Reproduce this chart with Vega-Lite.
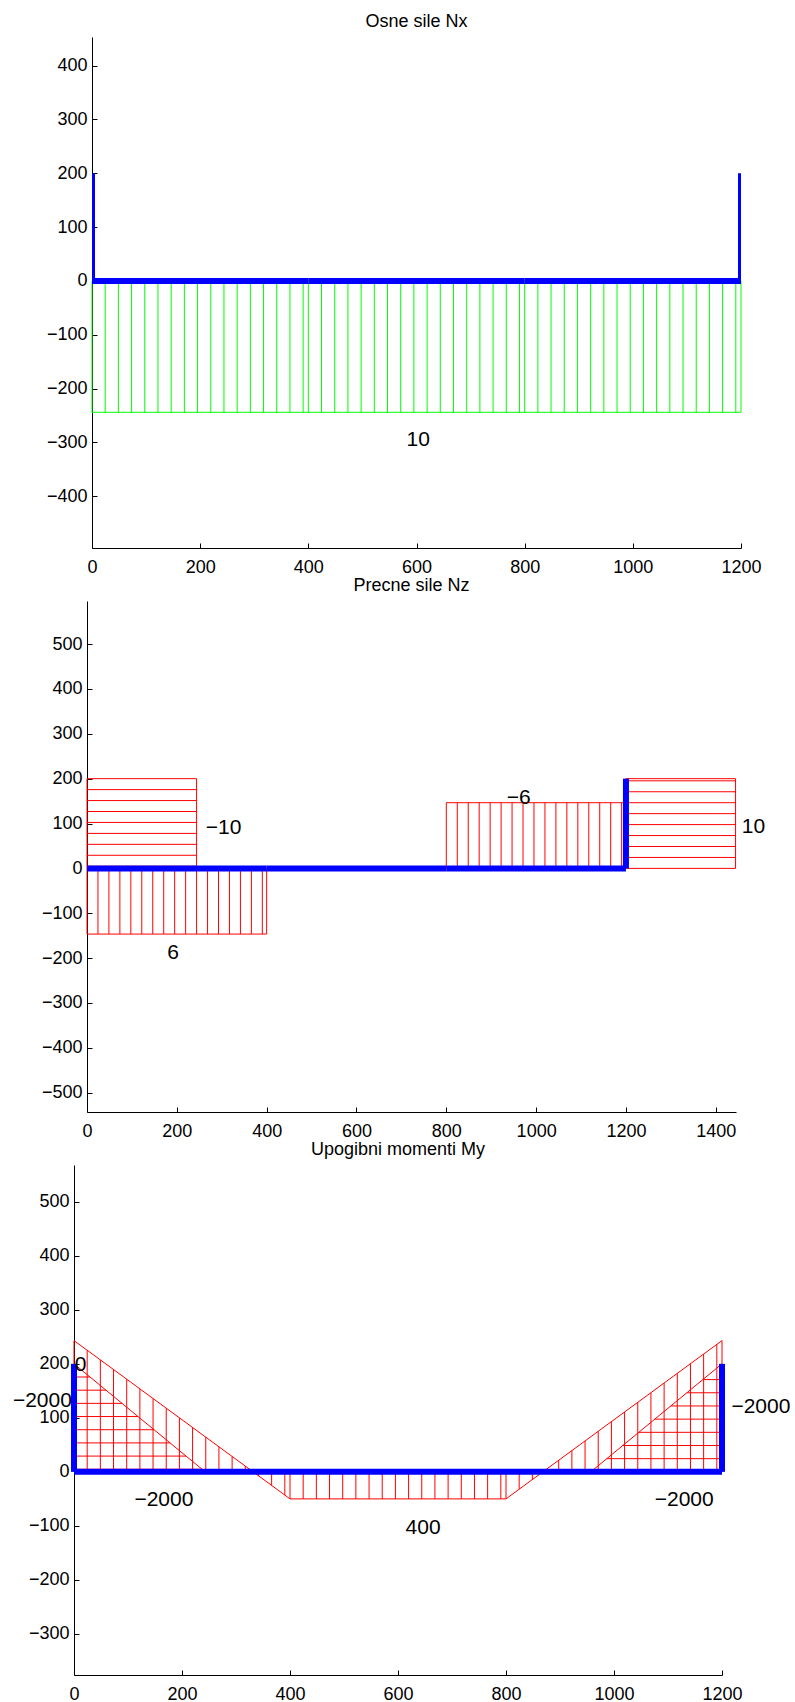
{
  "$schema": "https://vega.github.io/schema/vega-lite/v6.json",
  "padding": {"left": 0, "top": 13, "right": 0, "bottom": 0},
  "background": "white",
  "align": "none",
  "bounds": "full",
  "spacing": 1,
  "config": {
    "view": {"stroke": null},
    "axis": {"domainColor": "#000", "domainWidth": 1, "tickColor": "#000", "tickWidth": 1, "tickSize": -5, "labelColor": "#000", "labelFont": "Liberation Sans", "labelFontSize": 18, "grid": false, "labelFlush": false, "labelOverlap": false, "format": "d"},
    "axisX": {"labelPadding": 15},
    "axisY": {"labelPadding": 10, "minExtent": 65, "maxExtent": 65},
    "title": {"font": "Liberation Sans", "fontSize": 18, "fontWeight": "normal", "color": "#000", "anchor": "middle", "frame": "group", "offset": 6, "baseline": "alphabetic"},
    "text": {"font": "Liberation Sans", "fontSize": 21, "color": "#000", "align": "center", "baseline": "middle"}
  },
  "datasets": {
    "none": [],
    "p1": [
      {"part": "frame", "x": 0, "y": 0, "x2": 0, "y2": 200},
      {"part": "frame", "x": 0, "y": 0, "x2": 400, "y2": 0},
      {"part": "frame", "x": 400, "y": 0, "x2": 800, "y2": 0},
      {"part": "frame", "x": 800, "y": 0, "x2": 1200, "y2": 0},
      {"part": "frame", "x": 1200, "y": 0, "x2": 1200, "y2": 200},
      {"part": "diagram", "x": 0, "y": 0, "x2": 0, "y2": -244},
      {"part": "diagram", "x": 0, "y": -244, "x2": 1200, "y2": -244},
      {"part": "diagram", "x": 1200, "y": -244, "x2": 1200, "y2": 0},
      {"part": "diagram", "x": 400, "y": 0, "x2": 400, "y2": -244},
      {"part": "diagram", "x": 800, "y": 0, "x2": 800, "y2": -244},
      {"part": "diagram", "x": 0, "y": 0, "x2": 1200, "y2": 0},
      {"part": "diagram", "x": 24.4, "y": 0, "x2": 24.4, "y2": -244},
      {"part": "diagram", "x": 48.8, "y": 0, "x2": 48.8, "y2": -244},
      {"part": "diagram", "x": 73.2, "y": 0, "x2": 73.2, "y2": -244},
      {"part": "diagram", "x": 97.6, "y": 0, "x2": 97.6, "y2": -244},
      {"part": "diagram", "x": 122, "y": 0, "x2": 122, "y2": -244},
      {"part": "diagram", "x": 146.4, "y": 0, "x2": 146.4, "y2": -244},
      {"part": "diagram", "x": 170.8, "y": 0, "x2": 170.8, "y2": -244},
      {"part": "diagram", "x": 195.2, "y": 0, "x2": 195.2, "y2": -244},
      {"part": "diagram", "x": 219.6, "y": 0, "x2": 219.6, "y2": -244},
      {"part": "diagram", "x": 244, "y": 0, "x2": 244, "y2": -244},
      {"part": "diagram", "x": 268.4, "y": 0, "x2": 268.4, "y2": -244},
      {"part": "diagram", "x": 292.8, "y": 0, "x2": 292.8, "y2": -244},
      {"part": "diagram", "x": 317.2, "y": 0, "x2": 317.2, "y2": -244},
      {"part": "diagram", "x": 341.6, "y": 0, "x2": 341.6, "y2": -244},
      {"part": "diagram", "x": 366, "y": 0, "x2": 366, "y2": -244},
      {"part": "diagram", "x": 390.4, "y": 0, "x2": 390.4, "y2": -244},
      {"part": "diagram", "x": 424.4, "y": 0, "x2": 424.4, "y2": -244},
      {"part": "diagram", "x": 448.8, "y": 0, "x2": 448.8, "y2": -244},
      {"part": "diagram", "x": 473.2, "y": 0, "x2": 473.2, "y2": -244},
      {"part": "diagram", "x": 497.6, "y": 0, "x2": 497.6, "y2": -244},
      {"part": "diagram", "x": 522, "y": 0, "x2": 522, "y2": -244},
      {"part": "diagram", "x": 546.4, "y": 0, "x2": 546.4, "y2": -244},
      {"part": "diagram", "x": 570.8, "y": 0, "x2": 570.8, "y2": -244},
      {"part": "diagram", "x": 595.2, "y": 0, "x2": 595.2, "y2": -244},
      {"part": "diagram", "x": 619.6, "y": 0, "x2": 619.6, "y2": -244},
      {"part": "diagram", "x": 644, "y": 0, "x2": 644, "y2": -244},
      {"part": "diagram", "x": 668.4, "y": 0, "x2": 668.4, "y2": -244},
      {"part": "diagram", "x": 692.8, "y": 0, "x2": 692.8, "y2": -244},
      {"part": "diagram", "x": 717.2, "y": 0, "x2": 717.2, "y2": -244},
      {"part": "diagram", "x": 741.6, "y": 0, "x2": 741.6, "y2": -244},
      {"part": "diagram", "x": 766, "y": 0, "x2": 766, "y2": -244},
      {"part": "diagram", "x": 790.4, "y": 0, "x2": 790.4, "y2": -244},
      {"part": "diagram", "x": 824.4, "y": 0, "x2": 824.4, "y2": -244},
      {"part": "diagram", "x": 848.8, "y": 0, "x2": 848.8, "y2": -244},
      {"part": "diagram", "x": 873.2, "y": 0, "x2": 873.2, "y2": -244},
      {"part": "diagram", "x": 897.6, "y": 0, "x2": 897.6, "y2": -244},
      {"part": "diagram", "x": 922, "y": 0, "x2": 922, "y2": -244},
      {"part": "diagram", "x": 946.4, "y": 0, "x2": 946.4, "y2": -244},
      {"part": "diagram", "x": 970.8, "y": 0, "x2": 970.8, "y2": -244},
      {"part": "diagram", "x": 995.2, "y": 0, "x2": 995.2, "y2": -244},
      {"part": "diagram", "x": 1019.6, "y": 0, "x2": 1019.6, "y2": -244},
      {"part": "diagram", "x": 1044, "y": 0, "x2": 1044, "y2": -244},
      {"part": "diagram", "x": 1068.4, "y": 0, "x2": 1068.4, "y2": -244},
      {"part": "diagram", "x": 1092.8, "y": 0, "x2": 1092.8, "y2": -244},
      {"part": "diagram", "x": 1117.2, "y": 0, "x2": 1117.2, "y2": -244},
      {"part": "diagram", "x": 1141.6, "y": 0, "x2": 1141.6, "y2": -244},
      {"part": "diagram", "x": 1166, "y": 0, "x2": 1166, "y2": -244},
      {"part": "diagram", "x": 1190.4, "y": 0, "x2": 1190.4, "y2": -244}
    ],
    "t1": [
      {"x": 603, "y": -295, "label": "10"}
    ],
    "p2": [
      {"part": "frame", "x": 0, "y": 0, "x2": 400, "y2": 0},
      {"part": "frame", "x": 400, "y": 0, "x2": 800, "y2": 0},
      {"part": "frame", "x": 800, "y": 0, "x2": 1200, "y2": 0},
      {"part": "frame", "x": 1200, "y": 0, "x2": 1200, "y2": 200},
      {"part": "diagram", "x": 0, "y": 0, "x2": 0, "y2": 200},
      {"part": "diagram", "x": 0, "y": 200, "x2": 244, "y2": 200},
      {"part": "diagram", "x": 244, "y": 200, "x2": 244, "y2": 0},
      {"part": "diagram", "x": 0, "y": 0, "x2": 244, "y2": 0},
      {"part": "diagram", "x": 0, "y": 175.6, "x2": 244, "y2": 175.6},
      {"part": "diagram", "x": 0, "y": 151.2, "x2": 244, "y2": 151.2},
      {"part": "diagram", "x": 0, "y": 126.8, "x2": 244, "y2": 126.8},
      {"part": "diagram", "x": 0, "y": 102.4, "x2": 244, "y2": 102.4},
      {"part": "diagram", "x": 0, "y": 78, "x2": 244, "y2": 78},
      {"part": "diagram", "x": 0, "y": 53.6, "x2": 244, "y2": 53.6},
      {"part": "diagram", "x": 0, "y": 29.2, "x2": 244, "y2": 29.2},
      {"part": "diagram", "x": 0, "y": 4.8, "x2": 244, "y2": 4.8},
      {"part": "diagram", "x": 0, "y": 0, "x2": 0, "y2": -146.4},
      {"part": "diagram", "x": 0, "y": -146.4, "x2": 400, "y2": -146.4},
      {"part": "diagram", "x": 400, "y": -146.4, "x2": 400, "y2": 0},
      {"part": "diagram", "x": 0, "y": 0, "x2": 400, "y2": 0},
      {"part": "diagram", "x": 24.4, "y": 0, "x2": 24.4, "y2": -146.4},
      {"part": "diagram", "x": 48.8, "y": 0, "x2": 48.8, "y2": -146.4},
      {"part": "diagram", "x": 73.2, "y": 0, "x2": 73.2, "y2": -146.4},
      {"part": "diagram", "x": 97.6, "y": 0, "x2": 97.6, "y2": -146.4},
      {"part": "diagram", "x": 122, "y": 0, "x2": 122, "y2": -146.4},
      {"part": "diagram", "x": 146.4, "y": 0, "x2": 146.4, "y2": -146.4},
      {"part": "diagram", "x": 170.8, "y": 0, "x2": 170.8, "y2": -146.4},
      {"part": "diagram", "x": 195.2, "y": 0, "x2": 195.2, "y2": -146.4},
      {"part": "diagram", "x": 219.6, "y": 0, "x2": 219.6, "y2": -146.4},
      {"part": "diagram", "x": 244, "y": 0, "x2": 244, "y2": -146.4},
      {"part": "diagram", "x": 268.4, "y": 0, "x2": 268.4, "y2": -146.4},
      {"part": "diagram", "x": 292.8, "y": 0, "x2": 292.8, "y2": -146.4},
      {"part": "diagram", "x": 317.2, "y": 0, "x2": 317.2, "y2": -146.4},
      {"part": "diagram", "x": 341.6, "y": 0, "x2": 341.6, "y2": -146.4},
      {"part": "diagram", "x": 366, "y": 0, "x2": 366, "y2": -146.4},
      {"part": "diagram", "x": 390.4, "y": 0, "x2": 390.4, "y2": -146.4},
      {"part": "diagram", "x": 800, "y": 0, "x2": 800, "y2": 146.4},
      {"part": "diagram", "x": 800, "y": 146.4, "x2": 1200, "y2": 146.4},
      {"part": "diagram", "x": 1200, "y": 146.4, "x2": 1200, "y2": 0},
      {"part": "diagram", "x": 800, "y": 0, "x2": 1200, "y2": 0},
      {"part": "diagram", "x": 824.4, "y": 0, "x2": 824.4, "y2": 146.4},
      {"part": "diagram", "x": 848.8, "y": 0, "x2": 848.8, "y2": 146.4},
      {"part": "diagram", "x": 873.2, "y": 0, "x2": 873.2, "y2": 146.4},
      {"part": "diagram", "x": 897.6, "y": 0, "x2": 897.6, "y2": 146.4},
      {"part": "diagram", "x": 922, "y": 0, "x2": 922, "y2": 146.4},
      {"part": "diagram", "x": 946.4, "y": 0, "x2": 946.4, "y2": 146.4},
      {"part": "diagram", "x": 970.8, "y": 0, "x2": 970.8, "y2": 146.4},
      {"part": "diagram", "x": 995.2, "y": 0, "x2": 995.2, "y2": 146.4},
      {"part": "diagram", "x": 1019.6, "y": 0, "x2": 1019.6, "y2": 146.4},
      {"part": "diagram", "x": 1044, "y": 0, "x2": 1044, "y2": 146.4},
      {"part": "diagram", "x": 1068.4, "y": 0, "x2": 1068.4, "y2": 146.4},
      {"part": "diagram", "x": 1092.8, "y": 0, "x2": 1092.8, "y2": 146.4},
      {"part": "diagram", "x": 1117.2, "y": 0, "x2": 1117.2, "y2": 146.4},
      {"part": "diagram", "x": 1141.6, "y": 0, "x2": 1141.6, "y2": 146.4},
      {"part": "diagram", "x": 1166, "y": 0, "x2": 1166, "y2": 146.4},
      {"part": "diagram", "x": 1190.4, "y": 0, "x2": 1190.4, "y2": 146.4},
      {"part": "diagram", "x": 1200, "y": 0, "x2": 1200, "y2": 200},
      {"part": "diagram", "x": 1200, "y": 200, "x2": 1444, "y2": 200},
      {"part": "diagram", "x": 1444, "y": 200, "x2": 1444, "y2": 0},
      {"part": "diagram", "x": 1200, "y": 0, "x2": 1444, "y2": 0},
      {"part": "diagram", "x": 1200, "y": 24.4, "x2": 1444, "y2": 24.4},
      {"part": "diagram", "x": 1200, "y": 48.8, "x2": 1444, "y2": 48.8},
      {"part": "diagram", "x": 1200, "y": 73.2, "x2": 1444, "y2": 73.2},
      {"part": "diagram", "x": 1200, "y": 97.6, "x2": 1444, "y2": 97.6},
      {"part": "diagram", "x": 1200, "y": 122, "x2": 1444, "y2": 122},
      {"part": "diagram", "x": 1200, "y": 146.4, "x2": 1444, "y2": 146.4},
      {"part": "diagram", "x": 1200, "y": 170.8, "x2": 1444, "y2": 170.8},
      {"part": "diagram", "x": 1200, "y": 195.2, "x2": 1444, "y2": 195.2}
    ],
    "t2": [
      {"x": 304, "y": 90, "label": "−10"},
      {"x": 191.6, "y": -187.5, "label": "6"},
      {"x": 961, "y": 157, "label": "−6"},
      {"x": 1484, "y": 92, "label": "10"}
    ],
    "p3": [
      {"part": "frame", "x": 0, "y": 0, "x2": 0, "y2": 200},
      {"part": "frame", "x": 0, "y": 0, "x2": 400, "y2": 0},
      {"part": "frame", "x": 400, "y": 0, "x2": 800, "y2": 0},
      {"part": "frame", "x": 800, "y": 0, "x2": 1200, "y2": 0},
      {"part": "frame", "x": 1200, "y": 0, "x2": 1200, "y2": 200},
      {"part": "diagram", "x": 0, "y": 200, "x2": 243, "y2": 0},
      {"part": "diagram", "x": 0, "y": 0, "x2": 0, "y2": 243},
      {"part": "diagram", "x": 0, "y": 175.6, "x2": 29.6, "y2": 175.6},
      {"part": "diagram", "x": 0, "y": 151.2, "x2": 59.3, "y2": 151.2},
      {"part": "diagram", "x": 0, "y": 126.8, "x2": 88.9, "y2": 126.8},
      {"part": "diagram", "x": 0, "y": 102.4, "x2": 118.6, "y2": 102.4},
      {"part": "diagram", "x": 0, "y": 78, "x2": 148.2, "y2": 78},
      {"part": "diagram", "x": 0, "y": 53.6, "x2": 177.9, "y2": 53.6},
      {"part": "diagram", "x": 0, "y": 29.2, "x2": 207.5, "y2": 29.2},
      {"part": "diagram", "x": 0, "y": 4.8, "x2": 237.2, "y2": 4.8},
      {"part": "diagram", "x": 0, "y": 243, "x2": 400, "y2": -50},
      {"part": "diagram", "x": 400, "y": -50, "x2": 400, "y2": 0},
      {"part": "diagram", "x": 0, "y": 0, "x2": 1200, "y2": 0},
      {"part": "diagram", "x": 24.4, "y": 0, "x2": 24.4, "y2": 225.1},
      {"part": "diagram", "x": 48.8, "y": 0, "x2": 48.8, "y2": 207.3},
      {"part": "diagram", "x": 73.2, "y": 0, "x2": 73.2, "y2": 189.4},
      {"part": "diagram", "x": 97.6, "y": 0, "x2": 97.6, "y2": 171.5},
      {"part": "diagram", "x": 122, "y": 0, "x2": 122, "y2": 153.6},
      {"part": "diagram", "x": 146.4, "y": 0, "x2": 146.4, "y2": 135.8},
      {"part": "diagram", "x": 170.8, "y": 0, "x2": 170.8, "y2": 117.9},
      {"part": "diagram", "x": 195.2, "y": 0, "x2": 195.2, "y2": 100},
      {"part": "diagram", "x": 219.6, "y": 0, "x2": 219.6, "y2": 82.1},
      {"part": "diagram", "x": 244, "y": 0, "x2": 244, "y2": 64.3},
      {"part": "diagram", "x": 268.4, "y": 0, "x2": 268.4, "y2": 46.4},
      {"part": "diagram", "x": 292.8, "y": 0, "x2": 292.8, "y2": 28.5},
      {"part": "diagram", "x": 317.2, "y": 0, "x2": 317.2, "y2": 10.6},
      {"part": "diagram", "x": 341.6, "y": 0, "x2": 341.6, "y2": -7.2},
      {"part": "diagram", "x": 366, "y": 0, "x2": 366, "y2": -25.1},
      {"part": "diagram", "x": 390.4, "y": 0, "x2": 390.4, "y2": -43},
      {"part": "diagram", "x": 400, "y": -50, "x2": 800, "y2": -50},
      {"part": "diagram", "x": 800, "y": -50, "x2": 800, "y2": 0},
      {"part": "diagram", "x": 424.4, "y": 0, "x2": 424.4, "y2": -50},
      {"part": "diagram", "x": 448.8, "y": 0, "x2": 448.8, "y2": -50},
      {"part": "diagram", "x": 473.2, "y": 0, "x2": 473.2, "y2": -50},
      {"part": "diagram", "x": 497.6, "y": 0, "x2": 497.6, "y2": -50},
      {"part": "diagram", "x": 522, "y": 0, "x2": 522, "y2": -50},
      {"part": "diagram", "x": 546.4, "y": 0, "x2": 546.4, "y2": -50},
      {"part": "diagram", "x": 570.8, "y": 0, "x2": 570.8, "y2": -50},
      {"part": "diagram", "x": 595.2, "y": 0, "x2": 595.2, "y2": -50},
      {"part": "diagram", "x": 619.6, "y": 0, "x2": 619.6, "y2": -50},
      {"part": "diagram", "x": 644, "y": 0, "x2": 644, "y2": -50},
      {"part": "diagram", "x": 668.4, "y": 0, "x2": 668.4, "y2": -50},
      {"part": "diagram", "x": 692.8, "y": 0, "x2": 692.8, "y2": -50},
      {"part": "diagram", "x": 717.2, "y": 0, "x2": 717.2, "y2": -50},
      {"part": "diagram", "x": 741.6, "y": 0, "x2": 741.6, "y2": -50},
      {"part": "diagram", "x": 766, "y": 0, "x2": 766, "y2": -50},
      {"part": "diagram", "x": 790.4, "y": 0, "x2": 790.4, "y2": -50},
      {"part": "diagram", "x": 800, "y": -50, "x2": 1200, "y2": 243},
      {"part": "diagram", "x": 1200, "y": 243, "x2": 1200, "y2": 0},
      {"part": "diagram", "x": 824.4, "y": 0, "x2": 824.4, "y2": -32.1},
      {"part": "diagram", "x": 848.8, "y": 0, "x2": 848.8, "y2": -14.3},
      {"part": "diagram", "x": 873.2, "y": 0, "x2": 873.2, "y2": 3.6},
      {"part": "diagram", "x": 897.6, "y": 0, "x2": 897.6, "y2": 21.5},
      {"part": "diagram", "x": 922, "y": 0, "x2": 922, "y2": 39.4},
      {"part": "diagram", "x": 946.4, "y": 0, "x2": 946.4, "y2": 57.2},
      {"part": "diagram", "x": 970.8, "y": 0, "x2": 970.8, "y2": 75.1},
      {"part": "diagram", "x": 995.2, "y": 0, "x2": 995.2, "y2": 93},
      {"part": "diagram", "x": 1019.6, "y": 0, "x2": 1019.6, "y2": 110.9},
      {"part": "diagram", "x": 1044, "y": 0, "x2": 1044, "y2": 128.7},
      {"part": "diagram", "x": 1068.4, "y": 0, "x2": 1068.4, "y2": 146.6},
      {"part": "diagram", "x": 1092.8, "y": 0, "x2": 1092.8, "y2": 164.5},
      {"part": "diagram", "x": 1117.2, "y": 0, "x2": 1117.2, "y2": 182.4},
      {"part": "diagram", "x": 1141.6, "y": 0, "x2": 1141.6, "y2": 200.2},
      {"part": "diagram", "x": 1166, "y": 0, "x2": 1166, "y2": 218.1},
      {"part": "diagram", "x": 1190.4, "y": 0, "x2": 1190.4, "y2": 236},
      {"part": "diagram", "x": 957, "y": 0, "x2": 1200, "y2": 200},
      {"part": "diagram", "x": 986.6, "y": 24.4, "x2": 1200, "y2": 24.4},
      {"part": "diagram", "x": 1016.3, "y": 48.8, "x2": 1200, "y2": 48.8},
      {"part": "diagram", "x": 1045.9, "y": 73.2, "x2": 1200, "y2": 73.2},
      {"part": "diagram", "x": 1075.6, "y": 97.6, "x2": 1200, "y2": 97.6},
      {"part": "diagram", "x": 1105.2, "y": 122, "x2": 1200, "y2": 122},
      {"part": "diagram", "x": 1134.9, "y": 146.4, "x2": 1200, "y2": 146.4},
      {"part": "diagram", "x": 1164.5, "y": 170.8, "x2": 1200, "y2": 170.8},
      {"part": "diagram", "x": 1194.2, "y": 195.2, "x2": 1200, "y2": 195.2}
    ],
    "t3": [
      {"x": 12, "y": 197, "label": "0"},
      {"x": -58.5, "y": 132, "label": "−2000"},
      {"x": 166.5, "y": -52.5, "label": "−2000"},
      {"x": 646.5, "y": -104, "label": "400"},
      {"x": 1130, "y": -52.5, "label": "−2000"},
      {"x": 1272, "y": 120, "label": "−2000"}
    ]
  },
  "vconcat": [
    {
      "hconcat": [
        {"width": 27, "height": 1, "data": {"name": "none"}, "mark": {"type": "rule"}, "encoding": {}},
        {
          "title": {"text": "Osne sile Nx"},
          "width": 649,
          "height": 511,
          "layer": [
            {
              "data": {"name": "p1"},
              "transform": [{"filter": "datum.part === 'diagram'"}],
              "mark": {"type": "rule", "color": "#00ff00", "strokeWidth": 1},
              "encoding": {
                "x": {"field": "x", "type": "quantitative", "scale": {"domain": [0, 1200], "nice": false}, "axis": {"title": null, "values": [0, 200, 400, 600, 800, 1000, 1200]}},
                "x2": {"field": "x2"},
                "y": {"field": "y", "type": "quantitative", "scale": {"domain": [-496, 453], "nice": false}, "axis": {"title": null, "values": [-400, -300, -200, -100, 0, 100, 200, 300, 400]}},
                "y2": {"field": "y2"}
              }
            },
            {
              "data": {"name": "p1"},
              "transform": [{"filter": "datum.part === 'frame'"}],
              "mark": {"type": "rule", "color": "#0000ff", "strokeWidth": 6, "clip": true},
              "encoding": {
                "x": {"field": "x", "type": "quantitative"},
                "x2": {"field": "x2"},
                "y": {"field": "y", "type": "quantitative"},
                "y2": {"field": "y2"}
              }
            },
            {
              "data": {"name": "t1"},
              "mark": {"type": "text"},
              "encoding": {
                "x": {"field": "x", "type": "quantitative"},
                "y": {"field": "y", "type": "quantitative"},
                "text": {"field": "label"}
              }
            }
          ]
        }
      ],
      "spacing": 0,
      "align": "none",
      "bounds": "full"
    },
    {
      "hconcat": [
        {"width": 22, "height": 1, "data": {"name": "none"}, "mark": {"type": "rule"}, "encoding": {}},
        {
          "title": {"text": "Precne sile Nz"},
          "width": 649,
          "height": 511,
          "layer": [
            {
              "data": {"name": "p2"},
              "transform": [{"filter": "datum.part === 'diagram'"}],
              "mark": {"type": "rule", "color": "#ff0000", "strokeWidth": 1},
              "encoding": {
                "x": {"field": "x", "type": "quantitative", "scale": {"domain": [0, 1445], "nice": false}, "axis": {"title": null, "values": [0, 200, 400, 600, 800, 1000, 1200, 1400]}},
                "x2": {"field": "x2"},
                "y": {"field": "y", "type": "quantitative", "scale": {"domain": [-543, 596], "nice": false}, "axis": {"title": null, "values": [-500, -400, -300, -200, -100, 0, 100, 200, 300, 400, 500]}},
                "y2": {"field": "y2"}
              }
            },
            {
              "data": {"name": "p2"},
              "transform": [{"filter": "datum.part === 'frame'"}],
              "mark": {"type": "rule", "color": "#0000ff", "strokeWidth": 6},
              "encoding": {
                "x": {"field": "x", "type": "quantitative"},
                "x2": {"field": "x2"},
                "y": {"field": "y", "type": "quantitative"},
                "y2": {"field": "y2"}
              }
            },
            {
              "data": {"name": "t2"},
              "mark": {"type": "text"},
              "encoding": {
                "x": {"field": "x", "type": "quantitative"},
                "y": {"field": "y", "type": "quantitative"},
                "text": {"field": "label"}
              }
            }
          ]
        }
      ],
      "spacing": 0,
      "align": "none",
      "bounds": "full"
    },
    {
      "hconcat": [
        {"width": 9, "height": 1, "data": {"name": "none"}, "mark": {"type": "rule"}, "encoding": {}},
        {
          "title": {"text": "Upogibni momenti My"},
          "width": 648,
          "height": 510,
          "layer": [
            {
              "data": {"name": "p3"},
              "transform": [{"filter": "datum.part === 'diagram'"}],
              "mark": {"type": "rule", "color": "#ff0000", "strokeWidth": 1},
              "encoding": {
                "x": {"field": "x", "type": "quantitative", "scale": {"domain": [0, 1200], "nice": false}, "axis": {"title": null, "values": [0, 200, 400, 600, 800, 1000, 1200]}},
                "x2": {"field": "x2"},
                "y": {"field": "y", "type": "quantitative", "scale": {"domain": [-376, 568], "nice": false}, "axis": {"title": null, "values": [-300, -200, -100, 0, 100, 200, 300, 400, 500]}},
                "y2": {"field": "y2"}
              }
            },
            {
              "data": {"name": "p3"},
              "transform": [{"filter": "datum.part === 'frame'"}],
              "mark": {"type": "rule", "color": "#0000ff", "strokeWidth": 6},
              "encoding": {
                "x": {"field": "x", "type": "quantitative"},
                "x2": {"field": "x2"},
                "y": {"field": "y", "type": "quantitative"},
                "y2": {"field": "y2"}
              }
            },
            {
              "data": {"name": "t3"},
              "mark": {"type": "text"},
              "encoding": {
                "x": {"field": "x", "type": "quantitative"},
                "y": {"field": "y", "type": "quantitative"},
                "text": {"field": "label"}
              }
            }
          ]
        }
      ],
      "spacing": 0,
      "align": "none",
      "bounds": "full"
    }
  ]
}
